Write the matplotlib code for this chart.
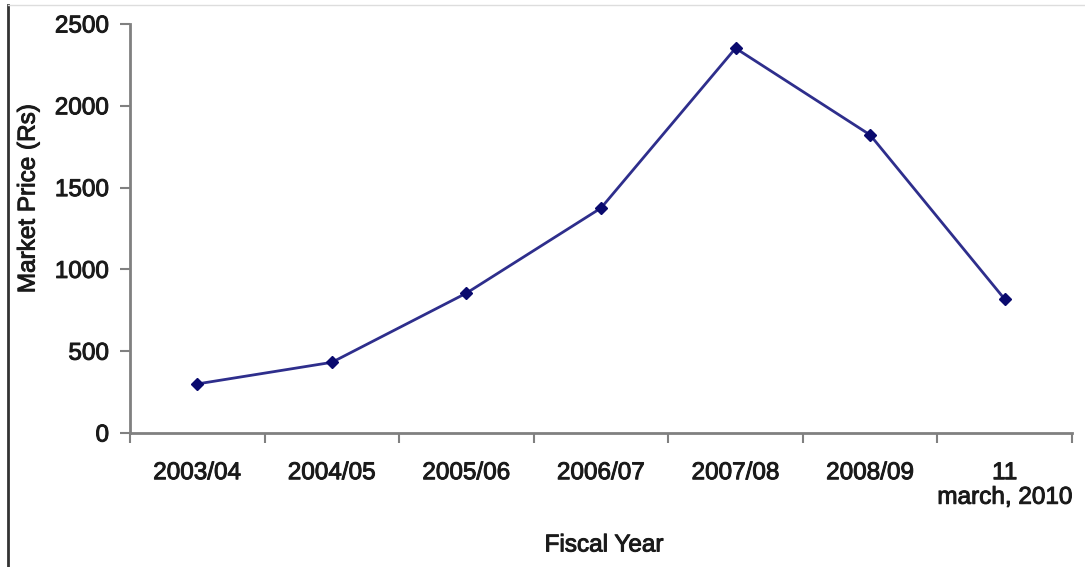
import matplotlib
matplotlib.use("Agg")
import matplotlib.pyplot as plt
import matplotlib.patheffects as pe
from matplotlib.lines import Line2D
import numpy as np

years = ["2003/04", "2004/05", "2005/06", "2006/07", "2007/08", "2008/09", "11\nmarch, 2010"]
price = [300, 432, 855, 1375, 2352, 1822, 818]

plt.rcParams["font.family"] = ["Liberation Sans", "DejaVu Sans"]

text_color = "#1a1a1a"
fs = 17.5
heavier = [pe.withStroke(linewidth=0.7, foreground=text_color)]

fig = plt.figure(figsize=(10.85, 5.67), dpi=100)
ax = fig.add_axes([0.1198, 0.2363, 0.8682, 0.7214])

x = np.arange(len(years))
ax.plot(x, price, color="#2e2e8c", lw=2, marker="D", ms=6,
        markerfacecolor="#0a0a6e", markeredgecolor="#0a0a6e", zorder=3)

ax.set_xlim(-0.5, len(years) - 0.5)
ax.set_ylim(0, 2500)
ax.set_yticks(np.arange(0, 2501, 500))
ax.set_xticks(x)
ax.set_xticklabels(years, fontsize=fs, color=text_color, linespacing=1.15)
ax.tick_params(axis="x", length=0, pad=21)
ax.set_xticks(np.arange(-0.5, len(years), 1), minor=True)
ax.tick_params(axis="x", which="minor", length=7, width=1.5, color="#808080")
ax.tick_params(axis="y", length=7, width=1.5, color="#808080", labelsize=fs,
               labelcolor=text_color, pad=8)

for s in ["top", "right"]:
    ax.spines[s].set_visible(False)
for s in ["left", "bottom"]:
    ax.spines[s].set_color("#808080")
    ax.spines[s].set_linewidth(2)

ax.set_ylabel("Market Price (Rs)", fontsize=fs, color=text_color)
ax.yaxis.set_label_coords(-0.096, 0.572)
ax.set_xlabel("Fiscal Year", fontsize=fs, color=text_color)
ax.xaxis.set_label_coords(0.503, -0.248)

for t in ax.get_xticklabels() + ax.get_yticklabels() + [ax.xaxis.label, ax.yaxis.label]:
    t.set_path_effects(heavier)

# frame lines around the figure
fig.add_artist(Line2D([0.0074, 0.0074], [0, 0.992], transform=fig.transFigure,
                      color="#333333", lw=2))
fig.add_artist(Line2D([0.0074, 1.0], [0.992, 0.992], transform=fig.transFigure,
                      color="#dddddd", lw=1))

fig.savefig("out.png", dpi=100)
